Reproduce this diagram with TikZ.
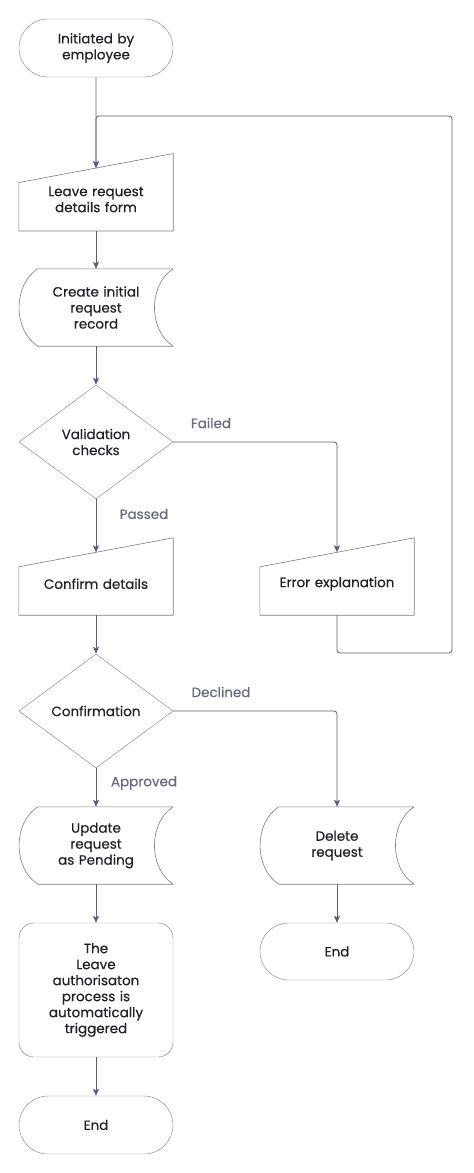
\documentclass[tikz,border=0pt]{standalone}
\usepackage{fontspec}
\setmainfont{Poppins}[FakeBold=0.4]
\usetikzlibrary{shapes.geometric, shapes.misc, arrows.meta}

\definecolor{linegray}{HTML}{5E5E72}
\definecolor{boxgray}{HTML}{7C7C84}
\definecolor{labelgray}{HTML}{6A6A7C}
\definecolor{textdark}{HTML}{222226}

\tikzset{
  box/.style={minimum width=154pt, inner sep=0pt, text width=140pt, align=center,
    font=\fontsize{13.5}{16}\selectfont, text=textdark},
  terminal/.style={box, rounded rectangle, draw=boxgray, minimum height=58pt},
  decision/.style={box, diamond, draw=boxgray, minimum height=114pt, aspect=1.35, text width=100pt},
  process/.style={box, rectangle, draw=boxgray, rounded corners=15pt},
  manual/.style={box, minimum height=62.5pt},
  stored/.style={box, minimum height=77pt},
  shapeline/.style={draw=boxgray, line width=0.6pt},
  flow/.style={draw=linegray, line width=0.8pt, rounded corners=3pt,
    -{Stealth[length=7pt, width=6pt, inset=1.5pt]}},
  branch/.style={font=\fontsize{13.5}{16}\selectfont, text=labelgray},
}

% outline of a manual input (slanted top)
\newcommand{\manualdraw}[1]{%
  \draw[shapeline] ([yshift=-14.5pt]#1.north west) -- ([yshift=14.5pt]#1.north east)
    -- (#1.south east) -- (#1.south west) -- cycle;}
% outline of stored data (curved sides)
\newcommand{\storeddraw}[1]{%
  \draw[shapeline] ([xshift=19pt]#1.north west)
    .. controls ([xshift=-6pt, yshift=-16pt]#1.north west) and ([xshift=-6pt, yshift=16pt]#1.south west) .. ([xshift=19pt]#1.south west)
    -- (#1.south east)
    .. controls ([xshift=-25pt, yshift=16pt]#1.south east) and ([xshift=-25pt, yshift=-16pt]#1.north east) .. (#1.north east) -- cycle;}

\begin{document}
\begin{tikzpicture}[x=1pt, y=-1pt, line join=round]
  \useasboundingbox (0,0) rectangle (474,1173);

  % left column
  \node[terminal] (start) at (96,48) {Initiated by\\employee};
  \node[manual] (form) at (96,199.5) {Leave request\\details form};
  \node[stored] (record) at (96,307.5) {Create initial\\request\\record};
  \node[decision] (valid) at (96,442) {Validation\\checks};
  \node[manual] (confirm) at (96,583.75) {Confirm details};
  \node[decision] (confirmq) at (96,711) {Confirmation};
  \node[stored] (update) at (96,845.5) {Update\\request\\as Pending};
  \node[process, minimum height=134pt] (auth) at (96,990)
    {The\\Leave\\authorisaton\\process is\\automatically\\triggered};
  \node[terminal] (end1) at (96,1125) {End};

  % right column
  \node[manual] (error) at (337,583.75) {Error explanation};
  \node[stored] (delete) at (337,845.5) {Delete\\request};
  \node[terminal, minimum height=57pt] (end2) at (337,951.5) {End};

  \manualdraw{form}
  \manualdraw{confirm}
  \manualdraw{error}
  \storeddraw{record}
  \storeddraw{update}
  \storeddraw{delete}

  % loop back corners
  \coordinate (loopbr) at (452,653);
  \coordinate (looptr) at (452,116);

  \draw[flow] (start) -- (form);
  \draw[flow] (form) -- (record);
  \draw[flow] (record) -- (valid);
  \draw[flow] (valid) -- (confirm);
  \draw[flow] (valid.east) -| (error.north);
  \draw[flow] (error.south) |- (loopbr) -- (looptr) -| (form.north);
  \draw[flow] (confirm) -- (confirmq);
  \draw[flow] (confirmq) -- (update);
  \draw[flow] (confirmq.east) -| (delete.north);
  \draw[flow] (update) -- (auth);
  \draw[flow] (auth) -- (end1);
  \draw[flow] (delete) -- (end2);

  % branch labels
  \node[branch] (failed) at (211,423) {Failed};
  \node[branch] (passed) at (144,514) {Passed};
  \node[branch] (declined) at (221,692) {Declined};
  \node[branch] (approved) at (144,783) {Approved};
\end{tikzpicture}
\end{document}
